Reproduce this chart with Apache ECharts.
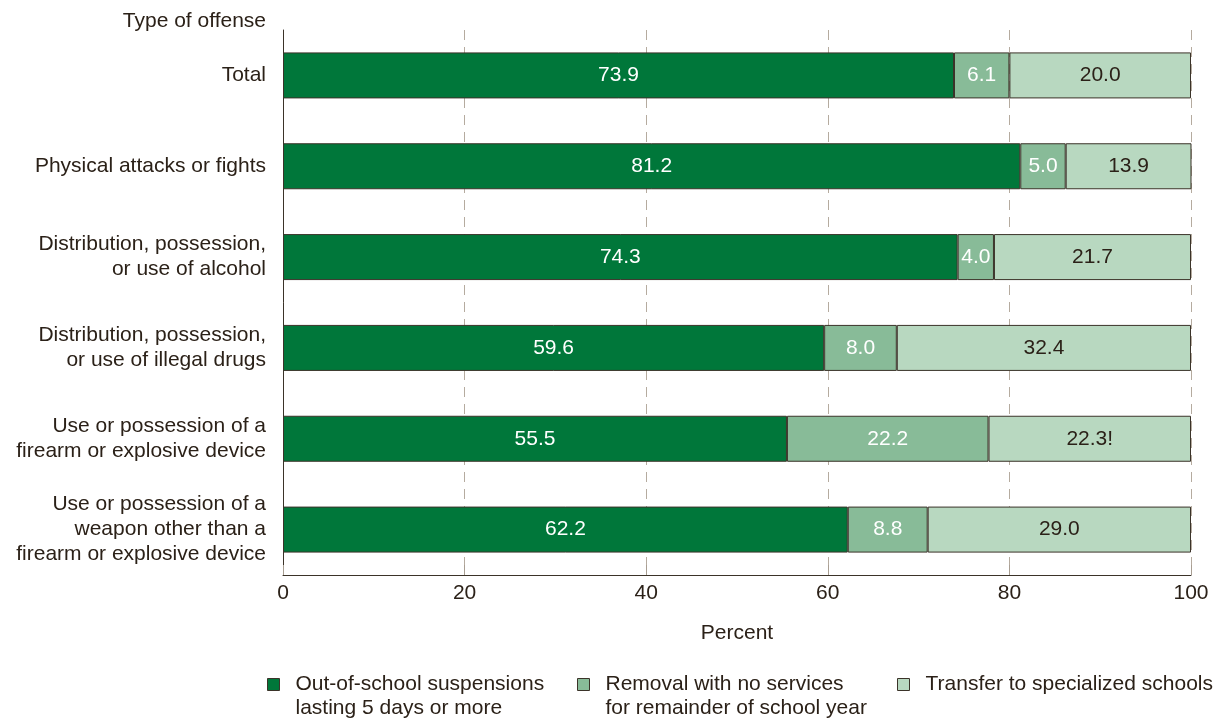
<!DOCTYPE html>
<html>
<head>
<meta charset="utf-8">
<script src="https://cdn.jsdelivr.net/npm/echarts@6/dist/echarts.min.js"></script>
<style>
  html, body { margin: 0; padding: 0; background: #fff; }
  #chart { width: 1218px; height: 721px; }
</style>
</head>
<body>
<div id="chart"></div>
<script>
const categories = [
  "Total",
  "Physical attacks or fights",
  "Distribution, possession,\nor use of alcohol",
  "Distribution, possession,\nor use of illegal drugs",
  "Use or possession of a\nfirearm or explosive device",
  "Use or possession of a\nweapon other than a\nfirearm or explosive device"
];
const suspensions = [73.9, 81.2, 74.3, 59.6, 55.5, 62.2];
const removal = [6.1, 5.0, 4.0, 8.0, 22.2, 8.8];
const transfer = [20.0, 13.9, 21.7, 32.4, 22.3, 29.0];
// "!" = interpret data with caution
const transferFlags = ["", "", "", "", "!", ""];
const xTicks = [0, 20, 40, 60, 80, 100];

const seriesNames = [
  "Out-of-school suspensions\nlasting 5 days or more",
  "Removal with no services\nfor remainder of school year",
  "Transfer to specialized schools"
];
const colors = ["#00773a", "#88bb98", "#b8d8c0"];
const textColor = "#2b2118";
const fontFamily = "Liberation Sans, Arial, sans-serif";
const fontSize = 21;

const chart = echarts.init(document.getElementById("chart"));

const makeSeries = (name, data, color, labelColor, flags) => ({
  name: name,
  type: "bar",
  stack: "total",
  data: data,
  barWidth: 46,
  itemStyle: { color: color, borderColor: "#3b3329", borderWidth: 1 },
  emphasis: { disabled: true },
  label: {
    show: true,
    position: "inside",
    color: labelColor,
    fontSize: fontSize,
    fontFamily: fontFamily,
    formatter: (p) => p.value.toFixed(1) + (flags ? flags[p.dataIndex] : "")
  }
});

// pad every entry to three lines so the first text line sits level with the square
const legendFor = (name, left) => ({
  data: [{ name: name, icon: "rect" }],
  left: left,
  top: 650,
  padding: 0,
  itemWidth: 12,
  itemHeight: 12,
  itemGap: 0,
  selectedMode: false,
  itemStyle: { borderColor: "#3b3329", borderWidth: 1 },
  formatter: (n) => {
    const lines = n.split("\n").map((l) => "{t|" + l + "}");
    while (lines.length < 2) lines.push("{t| }");
    return "{t| }\n" + lines.join("\n");
  },
  textStyle: {
    color: textColor,
    fontSize: fontSize,
    fontFamily: fontFamily,
    rich: {
      t: {
        color: textColor,
        fontSize: fontSize,
        fontFamily: fontFamily,
        lineHeight: 24,
        padding: [0, 0, 0, 11]
      }
    }
  }
});

chart.setOption({
  animation: false,
  title: {
    text: "Type of offense",
    right: 952,
    top: 11,
    padding: 0,
    textStyle: { color: textColor, fontSize: fontSize, fontWeight: "normal", fontFamily: fontFamily }
  },
  legend: [
    legendFor(seriesNames[0], 267),
    legendFor(seriesNames[1], 577),
    legendFor(seriesNames[2], 897)
  ],
  grid: { left: 283, right: 27, top: 30, bottom: 146 },
  xAxis: {
    type: "value",
    min: 0,
    max: 100,
    interval: 20,
    name: "Percent",
    nameLocation: "middle",
    nameGap: 48,
    nameTextStyle: { color: textColor, fontSize: fontSize, fontFamily: fontFamily },
    axisLine: { show: true, lineStyle: { color: "#3b3329", width: 1 } },
    axisTick: { show: true, inside: true, length: 10, lineStyle: { color: "#a89e92" } },
    axisLabel: {
      color: textColor,
      fontSize: fontSize,
      fontFamily: fontFamily,
      margin: 8,
      formatter: (v) => (xTicks.includes(v) ? String(v) : "")
    },
    splitLine: {
      show: true,
      lineStyle: { color: "#b5ab9f", type: [10, 7], width: 1 }
    }
  },
  yAxis: {
    type: "category",
    data: categories,
    inverse: true,
    axisLine: { show: true, lineStyle: { color: "#3b3329", width: 1 } },
    axisTick: { show: false },
    axisLabel: {
      color: textColor,
      fontSize: fontSize,
      fontFamily: fontFamily,
      lineHeight: 25,
      margin: 17,
      align: "right"
    }
  },
  series: [
    makeSeries(seriesNames[0], suspensions, colors[0], "#ffffff"),
    makeSeries(seriesNames[1], removal, colors[1], "#ffffff"),
    makeSeries(seriesNames[2], transfer, colors[2], textColor, transferFlags)
  ]
});
</script>
</body>
</html>
